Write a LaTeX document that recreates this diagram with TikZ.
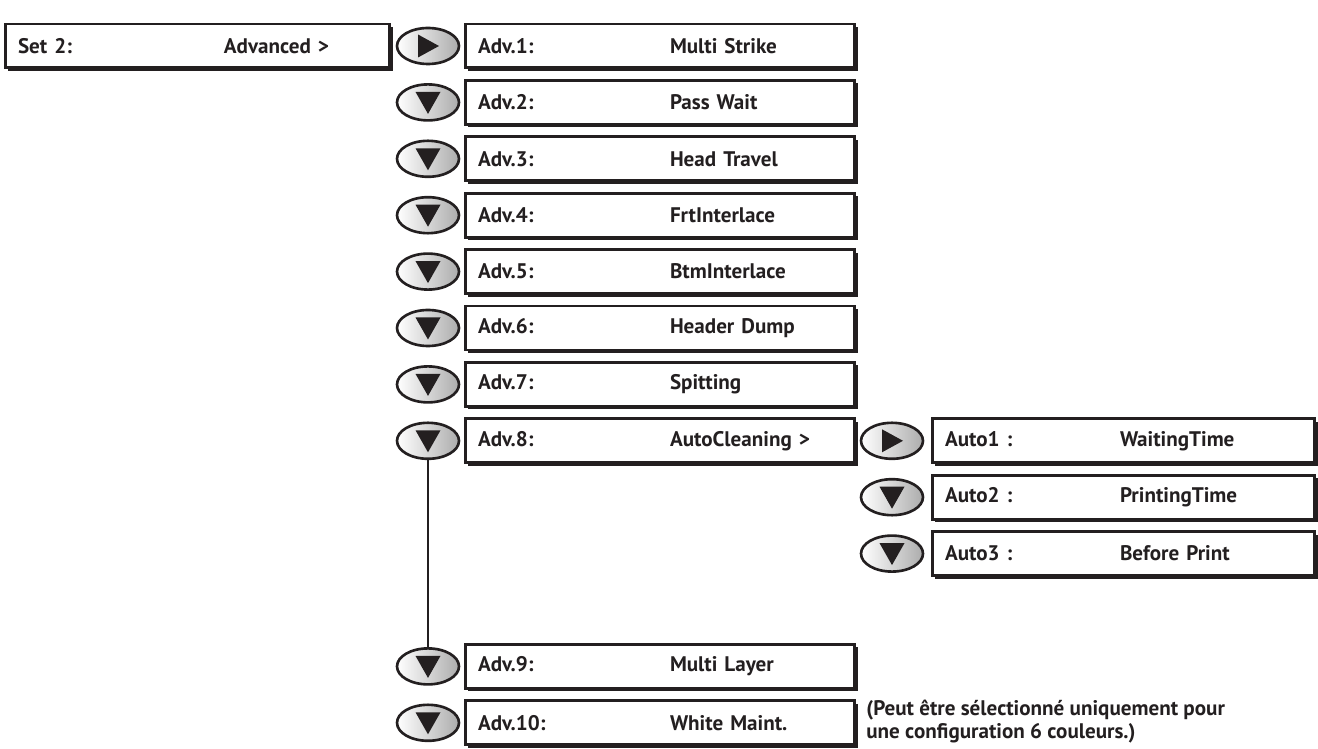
\documentclass[tikz,border=0pt]{standalone}
\usepackage{fontspec}
\setmainfont{PT Sans}
\usepackage{tikz}
\usetikzlibrary{shapes.geometric,shadows}
\definecolor{encre}{HTML}{231F20}
% colonne fixe pour la valeur
\newcommand{\champ}[3]{\makebox[#1][l]{#2}#3}
\tikzset{
  boite/.style={rectangle, draw=encre, fill=white, line width=1.7pt,
    minimum height=0.88cm, inner xsep=0.26cm, text width=#1, align=left,
    text=encre, font=\bfseries\fontsize{12}{14}\selectfont,
    drop shadow={shadow xshift=0.06cm, shadow yshift=-0.06cm, fill=encre, opacity=1}},
  bouton/.style={ellipse, draw=encre, line width=1.5pt, minimum width=1.24cm,
    minimum height=0.72cm, inner sep=0pt, left color=white, right color=gray!65},
  droite/.style={bouton, path picture={
    \fill[encre] ([xshift=-0.2cm,yshift=0.23cm]path picture bounding box.center)
      -- ([xshift=0.22cm]path picture bounding box.center)
      -- ([xshift=-0.2cm,yshift=-0.23cm]path picture bounding box.center) -- cycle;}},
  bas/.style={bouton, path picture={
    \fill[encre] ([xshift=-0.25cm,yshift=0.21cm]path picture bounding box.center)
      -- ([xshift=0.25cm,yshift=0.21cm]path picture bounding box.center)
      -- ([yshift=-0.23cm]path picture bounding box.center) -- cycle;}}
}
\begin{document}
\begin{tikzpicture}[x=0.02cm, y=-0.02cm]
\useasboundingbox (0,0) rectangle (1318,749);
% Menu principal
\node[boite=7.18cm] (set) at (197.5,46) {\champ{4.12cm}{Set 2:}{Advanced >}};
% Colonne Adv
\node[droite] (b1) at (428,46) {};
\node[boite=7.28cm] (adv1) at (660,46) {\champ{3.84cm}{Adv.1:}{Multi Strike}};
\node[bas] (b2) at (428,102.4) {};
\node[boite=7.28cm] (adv2) at (660,102.4) {\champ{3.84cm}{Adv.2:}{Pass Wait}};
\node[bas] (b3) at (428,158.8) {};
\node[boite=7.28cm] (adv3) at (660,158.8) {\champ{3.84cm}{Adv.3:}{Head Travel}};
\node[bas] (b4) at (428,215.2) {};
\node[boite=7.28cm] (adv4) at (660,215.2) {\champ{3.84cm}{Adv.4:}{FrtInterlace}};
\node[bas] (b5) at (428,271.6) {};
\node[boite=7.28cm] (adv5) at (660,271.6) {\champ{3.84cm}{Adv.5:}{BtmInterlace}};
\node[bas] (b6) at (428,328) {};
\node[boite=7.28cm] (adv6) at (660,328) {\champ{3.84cm}{Adv.6:}{Header Dump}};
\node[bas] (b7) at (428,384.4) {};
\node[boite=7.28cm] (adv7) at (660,384.4) {\champ{3.84cm}{Adv.7:}{Spitting}};
\node[bas] (b8) at (428,440.8) {};
\node[boite=7.28cm] (adv8) at (660,440.8) {\champ{3.84cm}{Adv.8:}{AutoCleaning >}};
\node[bas] (b9) at (428,666.4) {};
\node[boite=7.28cm] (adv9) at (660,666.4) {\champ{3.84cm}{Adv.9:}{Multi Layer}};
\node[bas] (b10) at (428,722.8) {};
\node[boite=7.28cm] (adv10) at (660,722.8) {\champ{3.84cm}{Adv.10:}{White Maint.}};
% Sous-menu AutoCleaning
\node[droite] (c1) at (892,440.8) {};
\node[boite=7.14cm] (auto1) at (1123.5,440.8) {\champ{3.5cm}{Auto1 :}{WaitingTime}};
\node[bas] (c2) at (892,497.2) {};
\node[boite=7.14cm] (auto2) at (1123.5,497.2) {\champ{3.5cm}{Auto2 :}{PrintingTime}};
\node[bas] (c3) at (892,553.6) {};
\node[boite=7.14cm] (auto3) at (1123.5,553.6) {\champ{3.5cm}{Auto3 :}{Before Print}};
% Liaison Adv.8 -- Adv.9
\draw[encre, line width=1.5pt] (b8.south) -- (b9.north);
% Remarque
\node[anchor=west, align=left, inner sep=0pt, text=encre,
  font=\bfseries\fontsize{12}{13}\selectfont] (note) at (866,722)
  {(Peut être sélectionné uniquement pour\\une configuration 6 couleurs.)};
\end{tikzpicture}
\end{document}
